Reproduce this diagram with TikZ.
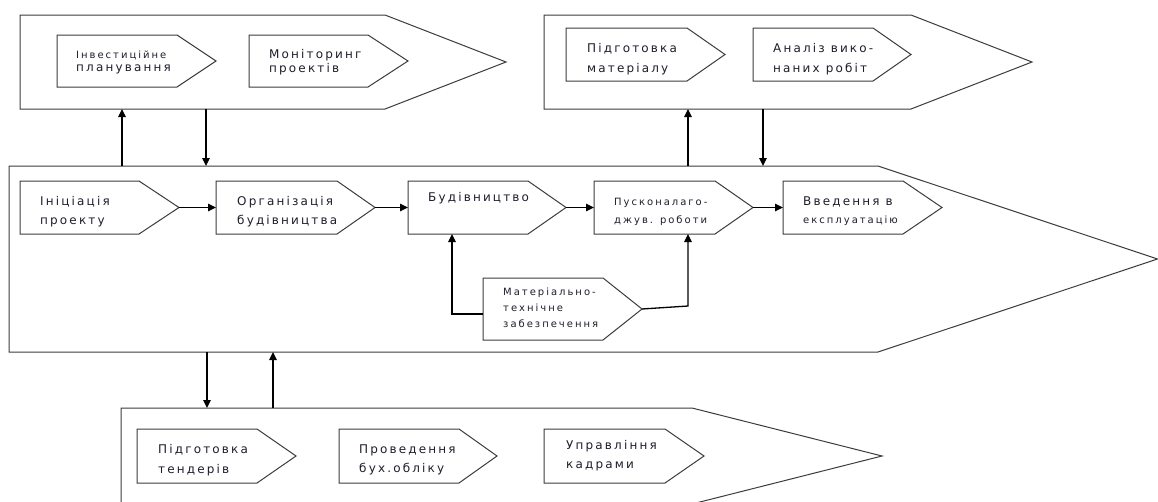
\documentclass[tikz,border=0pt]{standalone}
\usepackage{fontspec}
\usetikzlibrary{arrows.meta}
\newfontfamily\fontA[LetterSpace=18]{DejaVu Sans}
\newfontfamily\fontB[LetterSpace=20]{DejaVu Sans}
\definecolor{edge}{RGB}{60,60,60}
\definecolor{txt}{RGB}{30,30,45}
\newcommand\pentabox[6]{% name, x-left, y-top, x-shoulder, x-tip, y-bottom
  \draw[shp] (#2,#3) coordinate (#1-nw) -- (#4,#3) coordinate (#1-ne)
    -- (#5,{(#3+#6)/2}) coordinate (#1-tip) -- (#4,#6) coordinate (#1-se)
    -- (#2,#6) coordinate (#1-sw) -- cycle;
  \coordinate (#1-w) at (#2,{(#3+#6)/2});
}
\tikzset{
  shp/.style={draw=edge, line width=1pt, fill=white, line join=miter},
  arr/.style={draw=black, line width=1.3pt, -{Triangle[length=8pt,width=7.5pt]}},
  tA/.style={font=\fontA\fontsize{12}{14}\selectfont, text=txt, anchor=base west, inner sep=0pt},
  tB/.style={font=\fontB\fontsize{10}{12}\selectfont, text=txt, anchor=base west, inner sep=0pt},
}
\begin{document}
\begin{tikzpicture}[x=1pt,y=-1pt]
\useasboundingbox (0,0) rectangle (1158,501);
\clip (0,0) rectangle (1158,501);
\fill[white] (0,0) rectangle (1158,501);

% big chevrons
\pentabox{TL}{20}{15}{385}{506}{109}
\pentabox{TR}{544}{15}{911}{1032}{109}
\pentabox{M}{9}{166}{878}{1157.5}{352}
\pentabox{B}{121}{408}{692}{882}{504}

% top-left inner
\pentabox{inv}{57}{35}{177}{216}{87}
\pentabox{mon}{249}{35}{368}{408}{87}
% top-right inner
\pentabox{prep}{566}{28}{687}{725}{81}
\pentabox{anal}{753}{28}{873}{911}{81}
% main inner
\pentabox{init}{20}{181}{139}{179}{234}
\pentabox{org}{216}{181}{337}{375}{234}
\pentabox{bud}{408}{181}{528}{566}{234}
\pentabox{pusk}{594}{181}{715}{753}{234}
\pentabox{vved}{783}{181}{903}{942}{234}
\pentabox{mat}{483}{278}{603}{642}{340}
% bottom inner
\pentabox{tend}{137}{429}{257}{296}{483}
\pentabox{buh}{339}{429}{459}{497}{483}
\pentabox{kadr}{544}{429}{665}{704}{483}

% texts
\node[tB] (inv1) at (76,58) {Інвестиційне};
\node[tA] (inv2) at (76,71.5) {планування};
\node[tA] (mon1) at (269,58) {Моніторинг};
\node[tA] (mon2) at (269,72) {проектів};
\node[tA] (prep1) at (587,52.5) {Підготовка};
\node[tA] (prep2) at (587,72) {матеріалу};
\node[tA] (anal1) at (773,52.5) {Аналіз вико-};
\node[tA] (anal2) at (773,72) {наних робіт};
\node[tA] (init1) at (40,205) {Ініціація};
\node[tA] (init2) at (40,224) {проекту};
\node[tA] (org1) at (237,205.5) {Організація};
\node[tA] (org2) at (237,224.5) {будівництва};
\node[tA] (bud1) at (428,201) {Будівництво};
\node[tB] (pusk1) at (614,205) {Пусконалаго-};
\node[tB] (pusk2) at (614,223.5) {джув. роботи};
\node[tA] (vved1) at (803,205) {Введення в};
\node[tB] (vved2) at (803,223.5) {експлуатацію};
\node[tB] (mat1) at (503,295.5) {Матеріально-};
\node[tB] (mat2) at (503,311.5) {технічне};
\node[tB] (mat3) at (503,327) {забезпечення};
\node[tA] (tend1) at (158,453) {Підготовка};
\node[tA] (tend2) at (158,473) {тендерів};
\node[tA] (buh1) at (359,453) {Проведення};
\node[tA] (buh2) at (359,472.5) {бух.обліку};
\node[tA] (kadr1) at (566,449) {Управління};
\node[tA] (kadr2) at (566,468) {кадрами};

% connector x positions
\coordinate (xa) at (122,0);
\coordinate (xb) at (206,0);
\coordinate (xc) at (688,0);
\coordinate (xd) at (763,0);
\coordinate (xe) at (207,0);
\coordinate (xf) at (273,0);
\coordinate (xg) at (452,0);
\coordinate (matL) at (483,314);
\coordinate (matK) at (688,306);

% vertical links between chevrons
\draw[arr] (M-nw -| xa) -- (TL-sw -| xa);
\draw[arr] (TL-sw -| xb) -- (M-nw -| xb);
\draw[arr] (M-nw -| xc) -- (TR-sw -| xc);
\draw[arr] (TR-sw -| xd) -- (M-nw -| xd);
\draw[arr] (M-sw -| xe) -- (B-nw -| xe);
\draw[arr] (B-nw -| xf) -- (M-sw -| xf);

% process chain
\draw[arr] (init-tip) -- (org-w);
\draw[arr] (org-tip) -- (bud-w);
\draw[arr] (bud-tip) -- (pusk-w);
\draw[arr] (pusk-tip) -- (vved-w);

% material supply
\draw[arr] (matL) -| (bud-sw -| xg);
\draw[arr] (mat-tip) -- (matK) -- (pusk-sw -| xc);
\end{tikzpicture}
\end{document}
